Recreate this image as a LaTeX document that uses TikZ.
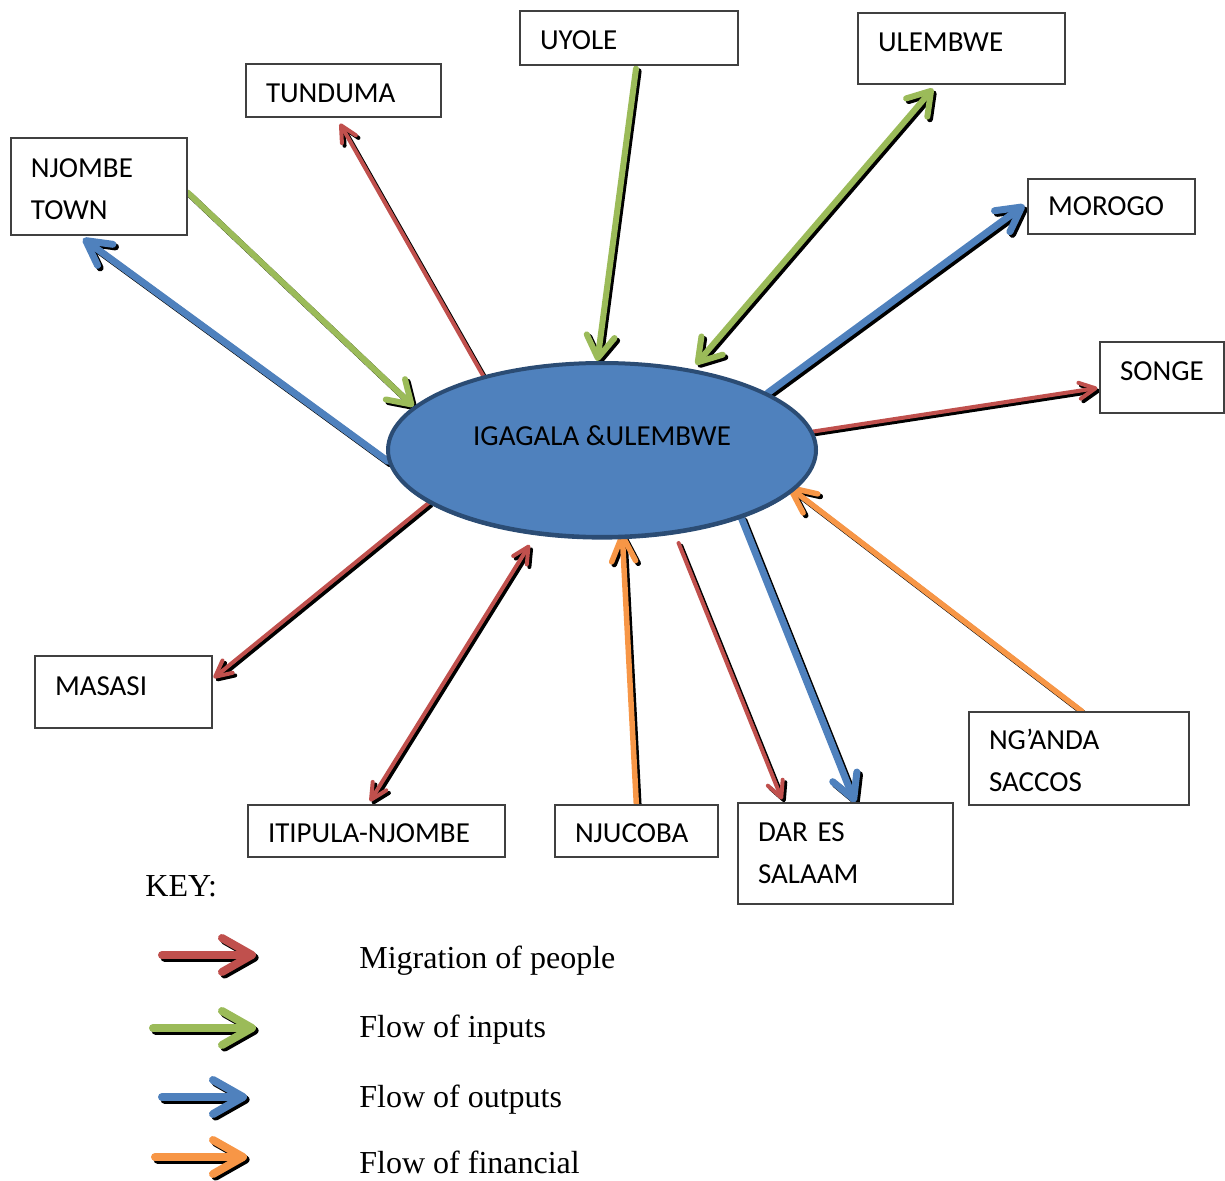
\documentclass[tikz,border=0pt]{standalone}
\usepackage{fontspec}
\setmainfont{Liberation Serif}
\newfontfamily\boxfont{Carlito}
\usetikzlibrary{arrows.meta,shapes.geometric,backgrounds}

\definecolor{migred}{HTML}{C0504D}
\definecolor{ingreen}{HTML}{9BBB59}
\definecolor{outblue}{HTML}{4F81BD}
\definecolor{finorange}{HTML}{F79646}
\definecolor{hubline}{HTML}{2B4C74}

% flow arrow with a black drop shadow: #1 style, #2 from, #3 to
\newcommand\flowdraw[3]{%
  \draw[#1, draw=black, transform canvas={shift={(1.3pt,-1.3pt)}}] #2 -- #3;
  \draw[#1] #2 -- #3;}

\tikzset{
  place/.style={draw=black!75, fill=white, line width=0.6pt, rectangle,
    inner xsep=10pt, inner ysep=0pt, align=left,
    font=\boxfont\fontsize{14.5}{21}\selectfont},
  raised/.style={text depth=6pt},
  lowered/.style={text height=12pt},
  flow/.style={line cap=round},
  migration/.style={flow, draw=migred, line width=2pt,
    >={Straight Barb[round,length=8pt,width=8pt]}},
  inputs/.style={flow, draw=ingreen, line width=3pt,
    >={Straight Barb[round,length=11pt,width=14pt]}},
  outputs/.style={flow, draw=outblue, line width=3.5pt,
    >={Straight Barb[round,length=12pt,width=13pt]}},
  financial/.style={flow, draw=finorange, line width=2.75pt,
    >={Straight Barb[round,length=13pt,width=12pt]}},
  keyarrow/.style={line width=4pt,
    >={Straight Barb[round,length=15pt,width=17pt]}},
  keytext/.style={anchor=base west, inner sep=0pt, font=\fontsize{16}{19}\selectfont}
}

\begin{document}
\begin{tikzpicture}[x=0.5pt,y=-0.5pt]
  \useasboundingbox (0,0) rectangle (1225,1181);

  % centre
  \node[ellipse, minimum width=214pt, minimum height=87pt, inner sep=0pt,
        fill=outblue, draw=hubline, line width=2pt,
        preaction={fill=hubline, transform canvas={yshift=-1.3pt}},
        font=\boxfont\fontsize{14.5}{21}\selectfont, text depth=14pt]
        (hub) at (602,450) {IGAGALA \&ULEMBWE};

  % places
  \node[place, lowered, text width=89pt, minimum height=27pt] (uyole) at (629,38) {UYOLE};
  \node[place, raised, text width=83.5pt, minimum height=35.5pt] (ulembwe) at (961.5,48.5) {ULEMBWE};
  \node[place, lowered, text width=77.5pt, minimum height=26.5pt] (tunduma) at (343.5,90.5) {TUNDUMA};
  \node[place, lowered, text width=68pt, minimum height=48.5pt] (njombe) at (99,186.5) {NJOMBE\\TOWN};
  \node[place, text width=63.5pt, minimum height=27.5pt] (morogo) at (1111.5,206.5) {MOROGO};
  \node[place, raised, text width=42pt, minimum height=35.5pt] (songe) at (1162,377.5) {SONGE};
  \node[place, raised, text width=68.5pt, minimum height=36pt] (masasi) at (123.5,692) {MASASI};
  \node[place, lowered, text width=108.5pt, minimum height=26pt] (itipula) at (376.5,831) {ITIPULA-NJOMBE};
  \node[place, lowered, text width=61.5pt, minimum height=26pt] (njucoba) at (636.5,831) {NJUCOBA};
  \node[place, text width=87.5pt, minimum height=50.5pt] (dar) at (845.5,853.5) {DAR ES\\SALAAM};
  \node[place, lowered, text width=90pt, minimum height=46.5pt] (nganda) at (1079,758.5) {NG’ANDA\\SACCOS};

  % flows
  \begin{scope}[on background layer]
    \flowdraw{inputs, ->}{([yshift=-3pt]njombe.east)}{(hub.167)}
    \flowdraw{outputs, ->}{(hub.183)}{([xshift=-8pt,yshift=-1.5pt]njombe.south)}
    \flowdraw{migration, ->}{(hub.148)}{([xshift=-1.75pt,yshift=-3pt]tunduma.south)}
    \flowdraw{inputs, ->}{([xshift=3.5pt,yshift=-1.5pt]uyole.south)}{(hub.93)}
    \flowdraw{inputs, <->, shorten >=3pt}{([xshift=-14.25pt,yshift=-2pt]ulembwe.south)}{(hub.42)}
    \flowdraw{outputs, ->}{(hub.19)}{([xshift=-1.5pt,yshift=0.75pt]morogo.west)}
    \flowdraw{migration, ->}{(hub.5)}{([xshift=-1pt,yshift=-5.25pt]songe.west)}
    \flowdraw{financial, ->, shorten >=-4pt}{([xshift=1.5pt]nganda.north)}{(hub.-12)}
    \flowdraw{outputs, ->}{(hub.-26)}{([xshift=4.75pt]dar.north)}
    \flowdraw{migration, ->, shorten <=5pt}{(hub.-49)}{([xshift=-31.75pt,yshift=1.5pt]dar.north)}
    \flowdraw{financial, ->, shorten >=-3pt}{([yshift=-1.5pt]njucoba.north)}{(hub.-77)}
    \flowdraw{migration, <->, shorten >=6pt}{([xshift=-3.25pt,yshift=1.5pt]itipula.north)}{(hub.232)}
    \flowdraw{migration, ->}{(hub.197)}{([xshift=0.5pt,yshift=7pt]masasi.east)}
  \end{scope}

  % key
  \node[keytext] (key) at (145,896) {KEY:};
  \foreach \kind/\xa/\xb/\yy/\yt/\txt [count=\i] in {
      migration/162/256/955/968/Migration of people,
      inputs/153/256/1028/1037/Flow of inputs,
      outputs/162/247/1097/1107/Flow of outputs,
      financial/155/247/1157/1173/Flow of financial}{
    \coordinate (k\i a) at (\xa,\yy);
    \coordinate (k\i b) at (\xb,\yy);
    \flowdraw{\kind, keyarrow, ->}{(k\i a)}{(k\i b)}
    \node[keytext] (key\i) at (359,\yt) {\txt};
  }
\end{tikzpicture}
\end{document}
